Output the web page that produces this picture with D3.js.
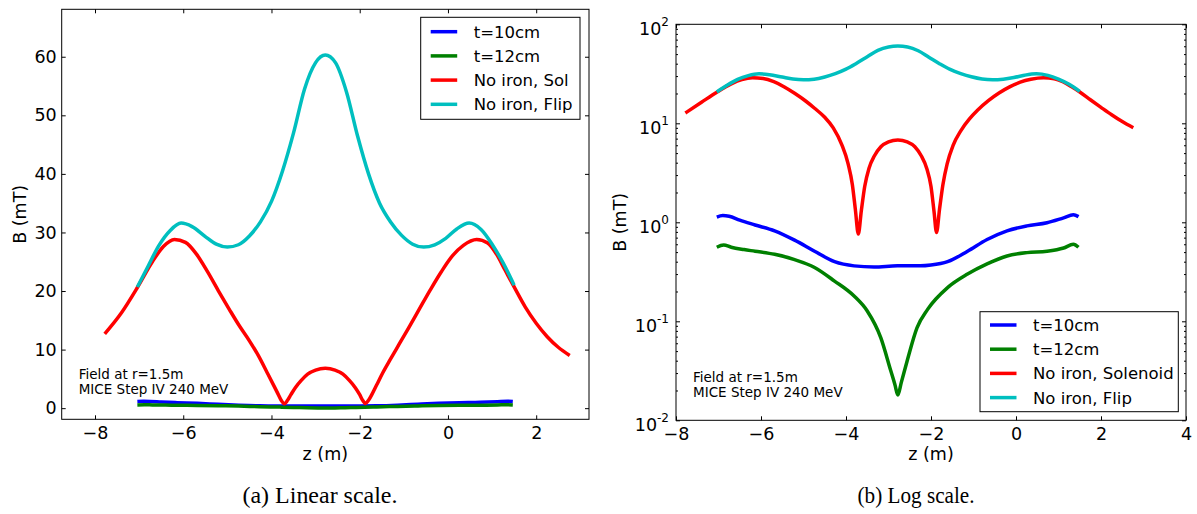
<!DOCTYPE html>
<html><head><meta charset="utf-8">
<script src="https://cdn.jsdelivr.net/npm/d3@7"></script>
<style>
body{margin:0;background:#fff}
svg{display:block}
text{font-family:"DejaVu Sans",sans-serif;fill:#000}
</style>
</head><body>
<svg id="c" width="1197" height="514"></svg>
<script>
// ---- data (z in m, B in mT) ----
const redZ = [-7.78,-7.4,-7.04,-6.7,-6.45,-6.2,-5.95,-5.7,-5.45,-5.2,-4.95,-4.74,-4.5,-4.3,-4.1,-3.95,-3.85,-3.78,-3.71,-3.64,-3.56,-3.46,-3.33,-3.18,-3.0,-2.78,-2.56,-2.38,-2.23,-2.1,-2.0,-1.93,-1.87,-1.80,-1.72,-1.62,-1.48,-1.3,-1.1,-0.9,-0.65,-0.4,-0.15,0.1,0.35,0.65,0.9,1.1,1.3,1.5,1.75,2.0,2.25,2.5,2.76];
const redB = [12.7,16.3,20.6,25.0,27.6,28.8,28.3,26.3,23.3,20.0,16.8,14.2,11.5,9.0,6.1,3.9,2.4,1.35,0.76,1.3,2.3,3.5,4.7,5.8,6.5,6.8,6.5,5.8,4.7,3.5,2.3,1.3,0.79,1.35,2.4,3.9,6.0,8.4,11.0,13.6,16.9,20.2,23.3,26.0,27.8,28.8,28.2,26.3,23.5,20.7,17.3,14.5,12.2,10.4,9.0];
const cyanZ = [-7.04,-6.8,-6.55,-6.3,-6.05,-5.8,-5.5,-5.25,-5.0,-4.75,-4.5,-4.25,-4.0,-3.75,-3.5,-3.25,-3.0,-2.78,-2.55,-2.3,-2.05,-1.8,-1.55,-1.3,-1.05,-0.8,-0.55,-0.3,-0.05,0.2,0.48,0.75,1.0,1.25,1.5];
const cyanB = [20.7,24.2,27.8,30.3,31.6,31.0,29.3,28.0,27.5,27.9,29.4,31.8,35.3,40.5,47.0,54.5,59.0,60.3,59.0,54.0,46.5,40.0,35.0,31.8,29.5,28.0,27.5,27.9,29.0,30.6,31.6,30.5,28.0,24.8,21.0];
const blueZ = [-7.04,-6.9,-6.75,-6.5,-6.14,-5.68,-5.21,-4.74,-4.27,-3.81,-3.34,-2.79,-2.25,-2.0,-1.61,-1.14,-0.68,-0.21,0.26,0.73,1.12,1.35,1.47];
const blueB = [1.13,1.17,1.15,1.05,0.94,0.82,0.66,0.51,0.40,0.363,0.354,0.363,0.363,0.37,0.40,0.51,0.67,0.82,0.92,0.99,1.11,1.19,1.14];
const greenZ = [-7.04,-6.88,-6.7,-6.4,-6.14,-5.68,-5.21,-4.74,-4.27,-3.81,-3.5,-3.18,-2.95,-2.85,-2.78,-2.7,-2.56,-2.33,-2.08,-1.61,-1.14,-0.68,-0.21,0.26,0.73,1.12,1.35,1.47];
const greenB = [0.56,0.59,0.56,0.53,0.51,0.475,0.42,0.35,0.255,0.18,0.127,0.068,0.032,0.023,0.018,0.024,0.040,0.086,0.132,0.219,0.30,0.38,0.457,0.494,0.51,0.55,0.60,0.56];

const xTicksLin = [-8,-6,-4,-2,0,2];
const yTicksLin = [0,10,20,30,40,50,60];
const xTicksLog = [-8,-6,-4,-2,0,2,4];
const yTicksLog = [0.01,0.1,1,10,100];
const yLogExp = ["-2","-1","0","1","2"];
const legendLin = ["t=10cm","t=12cm","No iron, Sol","No iron, Flip"];
const legendLog = ["t=10cm","t=12cm","No iron, Solenoid","No iron, Flip"];
const seriesColors = ["#0000ff","#008000","#ff0000","#00bfbf"];
const noteLines = ["Field at r=1.5m","MICE Step IV 240 MeV"];
const captions = ["(a) Linear scale.","(b) Log scale."];
const xLabel = "z (m)";
const yLabel = "B (mT)";

const zip = (zs, bs) => zs.map((z,i)=>[z,bs[i]]);
const series = [zip(blueZ,blueB), zip(greenZ,greenB), zip(redZ,redB), zip(cyanZ,cyanB)];

const svg = d3.select("#c");
const minus = s => String(s).replace("-", "\u2212");

function panel(o){
  const g = svg.append("g");
  const x = d3.scaleLinear().domain(o.xDom).range([o.L,o.R]);
  const y = (o.log ? d3.scaleLog() : d3.scaleLinear()).domain(o.yDom).range([o.B,o.T]);

  // curves
  const line = d3.line().x(d=>x(d[0])).y(d=>y(d[1])).curve(d3.curveMonotoneX);
  series.forEach((s,i)=>{
    g.append("path").attr("d", line(s)).attr("fill","none")
     .attr("stroke", seriesColors[i]).attr("stroke-width",3.5)
     .attr("stroke-linejoin","round");
  });

  // axes (ticks inside)
  const fs = 17.5;
  g.append("g").attr("transform",`translate(0,${o.B})`)
    .call(d3.axisBottom(x).tickValues(o.xTicks).tickSize(-4).tickPadding(7).tickFormat(minus));
  g.append("g").attr("transform",`translate(0,${o.T})`)
    .call(d3.axisTop(x).tickValues(o.xTicks).tickSize(-4).tickFormat(""));
  if(!o.log){
    g.append("g").attr("transform",`translate(${o.L},0)`)
      .call(d3.axisLeft(y).tickValues(o.yTicks).tickSize(-4).tickPadding(5).tickFormat(d3.format("d")));
    g.append("g").attr("transform",`translate(${o.R},0)`)
      .call(d3.axisRight(y).tickValues(o.yTicks).tickSize(-4).tickFormat(""));
  } else {
    const minor = [];
    for(let k=-2;k<2;k++) for(let m=2;m<10;m++) minor.push(m*Math.pow(10,k));
    g.append("g").attr("transform",`translate(${o.L},0)`)
      .call(d3.axisLeft(y).tickValues(o.yTicks).tickSize(-4).tickFormat(""));
    g.append("g").attr("transform",`translate(${o.R},0)`)
      .call(d3.axisRight(y).tickValues(o.yTicks).tickSize(-4).tickFormat(""));
    g.append("g").attr("transform",`translate(${o.L},0)`)
      .call(d3.axisLeft(y).tickValues(minor).tickSize(-2).tickFormat(""));
    g.append("g").attr("transform",`translate(${o.R},0)`)
      .call(d3.axisRight(y).tickValues(minor).tickSize(-2).tickFormat(""));
    o.yTicks.forEach((v,i)=>{
      const t = g.append("text").attr("x", o.L-7).attr("y", y(v)+11)
        .attr("text-anchor","end").style("font-size",fs+"px");
      t.append("tspan").text("10");
      t.append("tspan").attr("dy",-9).style("font-size","12px").text(yLogExp[i]);
    });
  }
  g.selectAll(".domain").remove();
  g.selectAll(".tick line").attr("stroke","#000").attr("stroke-width",1);
  g.selectAll(".tick text").style("font-size",fs+"px").style("font-family","'DejaVu Sans',sans-serif");

  // frame
  g.append("rect").attr("x",o.L).attr("y",o.T).attr("width",o.R-o.L).attr("height",o.B-o.T)
    .attr("fill","none").attr("stroke","#000").attr("stroke-width",1);

  // axis labels
  g.append("text").attr("x",(o.L+o.R)/2).attr("y",460).attr("text-anchor","middle")
    .style("font-size",fs+"px").text(xLabel);
  g.append("text").attr("transform",`translate(${o.yLabX},${(o.T+o.B)/2}) rotate(-90)`)
    .attr("text-anchor","middle").style("font-size",fs+"px").text(yLabel);

  // note
  noteLines.forEach((s,i)=>{
    g.append("text").attr("x",o.L+17).attr("y",o.noteY+i*15).style("font-size","13.5px").text(s);
  });

  // legend
  const lg = g.append("g");
  lg.append("rect").attr("x",o.lg.x0).attr("y",o.lg.y0).attr("width",o.lg.x1-o.lg.x0).attr("height",o.lg.y1-o.lg.y0)
    .attr("fill","#fff").attr("stroke","#000").attr("stroke-width",1);
  o.legend.forEach((s,i)=>{
    const cy = o.lg.row0 + i*24.2;
    lg.append("line").attr("x1",o.lg.x0+10).attr("x2",o.lg.x0+36.5).attr("y1",cy).attr("y2",cy)
      .attr("stroke",seriesColors[i]).attr("stroke-width",3.5);
    lg.append("text").attr("x",o.lg.x0+53).attr("y",cy+6).style("font-size","16.5px").text(s);
  });

  // caption
  svg.append("text").attr("x",o.capX).attr("y",503).attr("text-anchor","middle")
    .attr("textLength",o.capW).attr("lengthAdjust","spacingAndGlyphs")
    .style("font-family","'Liberation Serif','Times New Roman',serif").style("font-size","24px")
    .text(o.caption);
}

panel({L:61.7,R:589,T:9.3,B:419.3,xDom:[-8.755,3.197],yDom:[-1.9,68.1],log:false,
  xTicks:xTicksLin,yTicks:yTicksLin,yLabX:26,noteY:379,legend:legendLin,
  lg:{x0:420.7,x1:580,y0:17.3,y1:119.3,row0:31.7},caption:captions[0],capX:320,capW:155});
panel({L:676,R:1186,T:24.3,B:420.3,xDom:[-8,4],yDom:[0.01,100],log:true,
  xTicks:xTicksLog,yTicks:yTicksLog,yLabX:626,noteY:381.5,legend:legendLog,
  lg:{x0:980,x1:1178.3,y0:311.7,y1:411.7,row0:325},caption:captions[1],capX:916,capW:117});
</script>
</body></html>
